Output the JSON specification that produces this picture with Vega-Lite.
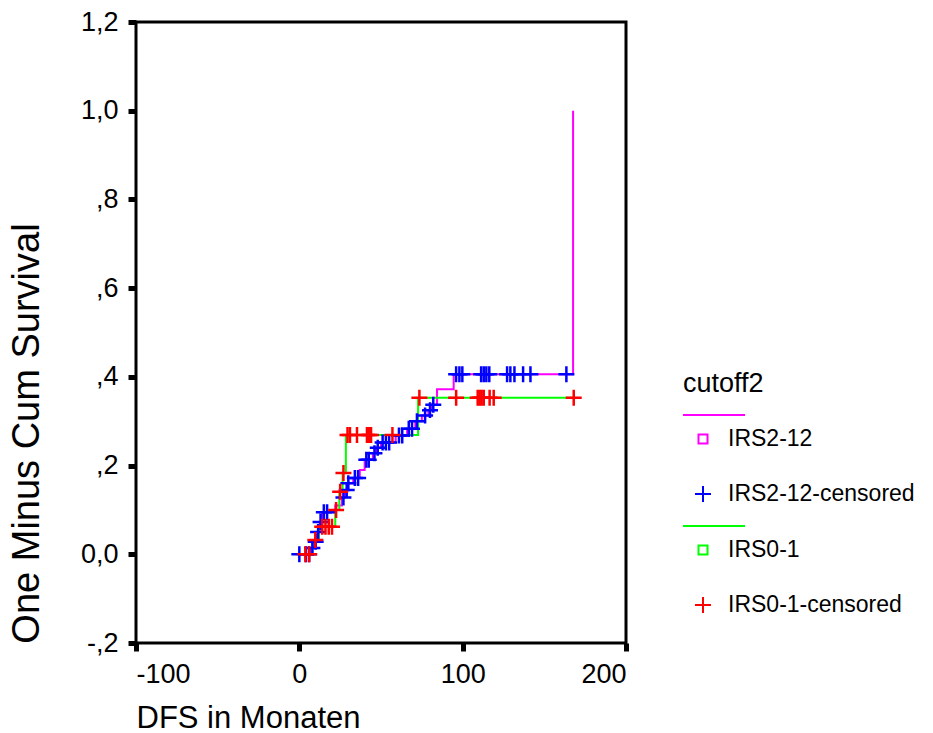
{
  "$schema": "https://vega.github.io/schema/vega-lite/v6.json",
  "width": 490,
  "height": 621,
  "autosize": {"type": "none"},
  "padding": {"left": 136, "top": 22, "right": 307, "bottom": 90},
  "background": "white",
  "config": {
    "font": "Liberation Sans",
    "view": {"stroke": "black", "strokeWidth": 3},
    "axis": {
      "grid": false,
      "domain": false,
      "tickColor": "black",
      "tickWidth": 5,
      "tickSize": 8,
      "labelColor": "black",
      "labelFont": "Liberation Sans",
      "labelFontSize": 27,
      "labelPadding": 10,
      "titleFont": "Liberation Sans",
      "titleColor": "black",
      "titleFontWeight": "normal"
    },
    "legend": {
      "orient": "none",
      "legendX": 547,
      "legendY": 349,
      "padding": 0,
      "titleFont": "Liberation Sans",
      "titleFontSize": 27,
      "titleFontWeight": "normal",
      "titleColor": "black",
      "titlePadding": 13,
      "labelFont": "Liberation Sans",
      "labelFontSize": 23,
      "labelColor": "black",
      "labelOffset": -3,
      "labelLimit": 0,
      "symbolSize": 2916,
      "symbolStrokeWidth": 2,
      "symbolOffset": -8,
      "rowPadding": 15
    }
  },
  "datasets": {
    "steps": [
      {"series": "IRS2-12", "month": 0, "cum": 0, "ord": 1},
      {"series": "IRS2-12", "month": 7, "cum": 0.014, "ord": 2},
      {"series": "IRS2-12", "month": 9, "cum": 0.028, "ord": 3},
      {"series": "IRS2-12", "month": 11, "cum": 0.05, "ord": 4},
      {"series": "IRS2-12", "month": 12.5, "cum": 0.073, "ord": 5},
      {"series": "IRS2-12", "month": 14, "cum": 0.095, "ord": 6},
      {"series": "IRS2-12", "month": 22, "cum": 0.11, "ord": 7},
      {"series": "IRS2-12", "month": 26, "cum": 0.128, "ord": 8},
      {"series": "IRS2-12", "month": 28, "cum": 0.145, "ord": 9},
      {"series": "IRS2-12", "month": 29.5, "cum": 0.16, "ord": 10},
      {"series": "IRS2-12", "month": 33, "cum": 0.172, "ord": 11},
      {"series": "IRS2-12", "month": 37, "cum": 0.19, "ord": 12},
      {"series": "IRS2-12", "month": 40, "cum": 0.213, "ord": 13},
      {"series": "IRS2-12", "month": 45, "cum": 0.228, "ord": 14},
      {"series": "IRS2-12", "month": 47, "cum": 0.24, "ord": 15},
      {"series": "IRS2-12", "month": 50, "cum": 0.252, "ord": 16},
      {"series": "IRS2-12", "month": 59, "cum": 0.268, "ord": 17},
      {"series": "IRS2-12", "month": 66, "cum": 0.283, "ord": 18},
      {"series": "IRS2-12", "month": 71, "cum": 0.3, "ord": 19},
      {"series": "IRS2-12", "month": 75, "cum": 0.313, "ord": 20},
      {"series": "IRS2-12", "month": 79, "cum": 0.325, "ord": 21},
      {"series": "IRS2-12", "month": 81, "cum": 0.337, "ord": 22},
      {"series": "IRS2-12", "month": 84.3, "cum": 0.372, "ord": 23},
      {"series": "IRS2-12", "month": 94.5, "cum": 0.406, "ord": 24},
      {"series": "IRS2-12", "month": 167.6, "cum": 0.406, "ord": 25},
      {"series": "IRS2-12", "month": 167.6, "cum": 1.0, "ord": 26},
      {"series": "IRS0-1", "month": 0, "cum": 0, "ord": 1},
      {"series": "IRS0-1", "month": 8, "cum": 0.032, "ord": 2},
      {"series": "IRS0-1", "month": 12, "cum": 0.062, "ord": 3},
      {"series": "IRS0-1", "month": 22, "cum": 0.1, "ord": 4},
      {"series": "IRS0-1", "month": 24.5, "cum": 0.141, "ord": 5},
      {"series": "IRS0-1", "month": 26.5, "cum": 0.183, "ord": 6},
      {"series": "IRS0-1", "month": 28.5, "cum": 0.269, "ord": 7},
      {"series": "IRS0-1", "month": 72.7, "cum": 0.353, "ord": 8},
      {"series": "IRS0-1", "month": 168, "cum": 0.353, "ord": 9}
    ],
    "cens": [
      {"series": "IRS2-12-censored", "month": 0, "cum": 0},
      {"series": "IRS2-12-censored", "month": 4, "cum": 0},
      {"series": "IRS2-12-censored", "month": 6, "cum": 0},
      {"series": "IRS2-12-censored", "month": 8, "cum": 0.014},
      {"series": "IRS2-12-censored", "month": 10, "cum": 0.028},
      {"series": "IRS2-12-censored", "month": 11.5, "cum": 0.05},
      {"series": "IRS2-12-censored", "month": 13, "cum": 0.073},
      {"series": "IRS2-12-censored", "month": 15, "cum": 0.095},
      {"series": "IRS2-12-censored", "month": 17, "cum": 0.095},
      {"series": "IRS2-12-censored", "month": 27, "cum": 0.128},
      {"series": "IRS2-12-censored", "month": 29, "cum": 0.145},
      {"series": "IRS2-12-censored", "month": 30, "cum": 0.16},
      {"series": "IRS2-12-censored", "month": 34, "cum": 0.172},
      {"series": "IRS2-12-censored", "month": 36, "cum": 0.172},
      {"series": "IRS2-12-censored", "month": 41, "cum": 0.213},
      {"series": "IRS2-12-censored", "month": 42.5, "cum": 0.213},
      {"series": "IRS2-12-censored", "month": 46, "cum": 0.228},
      {"series": "IRS2-12-censored", "month": 48, "cum": 0.24},
      {"series": "IRS2-12-censored", "month": 51, "cum": 0.252},
      {"series": "IRS2-12-censored", "month": 53, "cum": 0.252},
      {"series": "IRS2-12-censored", "month": 55, "cum": 0.252},
      {"series": "IRS2-12-censored", "month": 61, "cum": 0.268},
      {"series": "IRS2-12-censored", "month": 63, "cum": 0.268},
      {"series": "IRS2-12-censored", "month": 67, "cum": 0.283},
      {"series": "IRS2-12-censored", "month": 69, "cum": 0.283},
      {"series": "IRS2-12-censored", "month": 72, "cum": 0.3},
      {"series": "IRS2-12-censored", "month": 77, "cum": 0.313},
      {"series": "IRS2-12-censored", "month": 80, "cum": 0.325},
      {"series": "IRS2-12-censored", "month": 82, "cum": 0.337},
      {"series": "IRS2-12-censored", "month": 96, "cum": 0.406},
      {"series": "IRS2-12-censored", "month": 98, "cum": 0.406},
      {"series": "IRS2-12-censored", "month": 99.8, "cum": 0.406},
      {"series": "IRS2-12-censored", "month": 111.3, "cum": 0.406},
      {"series": "IRS2-12-censored", "month": 112.9, "cum": 0.406},
      {"series": "IRS2-12-censored", "month": 114.5, "cum": 0.406},
      {"series": "IRS2-12-censored", "month": 116.3, "cum": 0.406},
      {"series": "IRS2-12-censored", "month": 127.2, "cum": 0.406},
      {"series": "IRS2-12-censored", "month": 129.2, "cum": 0.406},
      {"series": "IRS2-12-censored", "month": 131.7, "cum": 0.406},
      {"series": "IRS2-12-censored", "month": 137, "cum": 0.406},
      {"series": "IRS2-12-censored", "month": 141.5, "cum": 0.406},
      {"series": "IRS2-12-censored", "month": 163.5, "cum": 0.406},
      {"series": "IRS0-1-censored", "month": 3.7, "cum": 0},
      {"series": "IRS0-1-censored", "month": 6, "cum": 0},
      {"series": "IRS0-1-censored", "month": 9.8, "cum": 0.032},
      {"series": "IRS0-1-censored", "month": 14, "cum": 0.062},
      {"series": "IRS0-1-censored", "month": 16, "cum": 0.062},
      {"series": "IRS0-1-censored", "month": 18, "cum": 0.062},
      {"series": "IRS0-1-censored", "month": 20, "cum": 0.062},
      {"series": "IRS0-1-censored", "month": 22.5, "cum": 0.1},
      {"series": "IRS0-1-censored", "month": 25, "cum": 0.141},
      {"series": "IRS0-1-censored", "month": 27, "cum": 0.183},
      {"series": "IRS0-1-censored", "month": 29.5, "cum": 0.269},
      {"series": "IRS0-1-censored", "month": 31, "cum": 0.269},
      {"series": "IRS0-1-censored", "month": 35.3, "cum": 0.269},
      {"series": "IRS0-1-censored", "month": 41.4, "cum": 0.269},
      {"series": "IRS0-1-censored", "month": 42.7, "cum": 0.269},
      {"series": "IRS0-1-censored", "month": 43.9, "cum": 0.269},
      {"series": "IRS0-1-censored", "month": 57, "cum": 0.269},
      {"series": "IRS0-1-censored", "month": 73.5, "cum": 0.353},
      {"series": "IRS0-1-censored", "month": 96, "cum": 0.353},
      {"series": "IRS0-1-censored", "month": 109.2, "cum": 0.353},
      {"series": "IRS0-1-censored", "month": 110.4, "cum": 0.353},
      {"series": "IRS0-1-censored", "month": 111.6, "cum": 0.353},
      {"series": "IRS0-1-censored", "month": 112.9, "cum": 0.353},
      {"series": "IRS0-1-censored", "month": 116.5, "cum": 0.353},
      {"series": "IRS0-1-censored", "month": 119, "cum": 0.353},
      {"series": "IRS0-1-censored", "month": 168, "cum": 0.353}
    ]
  },
  "encoding": {
    "x": {
      "field": "month",
      "type": "quantitative",
      "scale": {"domain": [-100, 200], "nice": false, "zero": false},
      "axis": {
        "values": [-100, 0, 100, 200],
        "labelExpr": "datum.value < 0 ? '-' + abs(datum.value) : '' + datum.value",
        "title": "DFS in Monaten",
        "titleFontSize": 31,
        "titleX": 0,
        "titleY": 75,
        "titleAlign": "left",
        "titleAnchor": "start",
        "titleBaseline": "middle"
      }
    },
    "y": {
      "field": "cum",
      "type": "quantitative",
      "scale": {"domain": [-0.2, 1.2], "nice": false, "zero": false},
      "axis": {
        "values": [-0.2, 0, 0.2, 0.4, 0.6, 0.8, 1.0, 1.2],
        "labelExpr": "datum.value < -0.1 ? '-,2' : abs(datum.value) < 0.01 ? '0,0' : datum.value > 1.1 ? '1,2' : datum.value > 0.9 ? '1,0' : ',' + round(datum.value * 10)",
        "title": "One Minus Cum Survival",
        "titleFontSize": 38,
        "titleX": -109,
        "titleY": 411,
        "titleAlign": "center",
        "titleAngle": -90,
        "titleBaseline": "middle"
      }
    }
  },
  "layer": [
    {
      "data": {"name": "steps"},
      "mark": {"type": "line", "interpolate": "step-after", "strokeWidth": 2},
      "encoding": {
        "color": {
          "field": "series",
          "type": "nominal",
          "title": "cutoff2",
          "scale": {
            "domain": ["IRS2-12", "IRS2-12-censored", "IRS0-1", "IRS0-1-censored"],
            "range": ["#ff00ff", "#0000ff", "#00ff00", "#ff0000"]
          }
        },
        "order": {"field": "ord", "type": "quantitative"}
      }
    },
    {
      "data": {"name": "cens"},
      "mark": {"type": "point", "filled": false, "strokeWidth": 2.5, "size": 2916, "opacity": 1},
      "encoding": {
        "color": {
          "field": "series",
          "type": "nominal",
          "title": "cutoff2",
          "scale": {
            "domain": ["IRS2-12", "IRS2-12-censored", "IRS0-1", "IRS0-1-censored"],
            "range": ["#ff00ff", "#0000ff", "#00ff00", "#ff0000"]
          }
        },
        "shape": {
          "field": "series",
          "type": "nominal",
          "title": "cutoff2",
          "scale": {
            "domain": ["IRS2-12", "IRS2-12-censored", "IRS0-1", "IRS0-1-censored"],
            "range": [
              "M-0.741,-0.889H1.556M-0.167,-0.167H0.167V0.167H-0.167Z",
              "M-0.296,0H0.296M0,-0.296V0.296",
              "M-0.741,-0.889H1.556M-0.167,-0.167H0.167V0.167H-0.167Z",
              "M-0.296,0H0.296M0,-0.296V0.296"
            ]
          }
        }
      }
    }
  ]
}
